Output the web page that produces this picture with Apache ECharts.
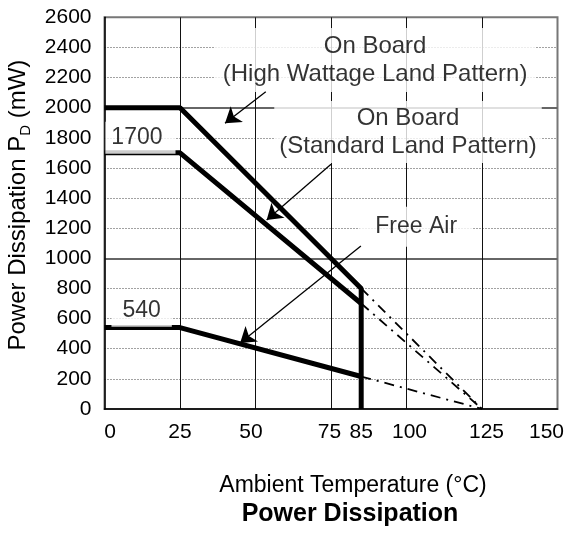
<!DOCTYPE html>
<html>
<head>
<meta charset="utf-8">
<script src="https://cdn.jsdelivr.net/npm/echarts@6/dist/echarts.min.js"></script>
<style>html,body{margin:0;padding:0;background:#fff}#c{width:569px;height:546px}</style>
</head>
<body>
<div id="c"></div>
<script>
// ---- data ----
const xTickLabels = [0, 25, 50, 75, 85, 100, 125, 150];
const highWattage = [[0, 2000], [25, 2000], [85, 800], [85, 0]];
const standardPattern = [[0, 1700], [25, 1700], [85, 700]];
const freeAir = [[0, 540], [25, 540], [85, 215]];
const highWattageExt = [[85, 800], [125, 0]];
const standardExt = [[85, 700], [125, 0]];
const freeAirExt = [[85, 215], [125, 0]];
const annotationTexts = ['On Board\n(High Wattage Land Pattern)', 'On Board\n(Standard Land Pattern)', 'Free Air', '1700', '540'];
const annotationX = [89.6, 100.5, 103.2, 11.9, 12.3];
const annotationY = [2316, 1838, 1210, 1800, 652];
const arrowFrom = [[53.4, 2106], [75.0, 1624], [84.9, 1082]];
const arrowTo = [[39.9, 1896], [53.7, 1254], [44.9, 437]];

const FONT = '"Liberation Sans", Arial, Helvetica, sans-serif';
const boxPadding = [[4, 8], [3, 5], [6, 16], [2, 13, 2, 6], [2, 11]];
const boxFont = [24, 24, 23, 23, 23];
// horizontal label nudges (rich padding) for x tick labels
const xLabelPad = {0: [0, 0, 0, 11], 50: [0, 9, 0, 0], 75: [0, 3, 0, 0], 100: [0, 0, 0, 6], 125: [0, 0, 0, 9], 150: [0, 22, 0, 0]};

const chart = echarts.init(document.getElementById('c'), null, {renderer: 'canvas'});

const thick = {color: '#000', width: 5};
const dashdot = {color: '#000', width: 1.8, type: [10, 6, 2, 6]};

function lineSeries(data, style) {
  return {type: 'line', data: data, symbol: 'none', lineStyle: style, animation: false, z: 3};
}

const xRich = {};
Object.keys(xLabelPad).forEach(function (k) {
  xRich['p' + k] = {fontFamily: FONT, fontSize: 21, color: '#000', padding: xLabelPad[k]};
});

const option = {
  animation: false,
  backgroundColor: '#fff',
  textStyle: {fontFamily: FONT},
  title: {
    text: 'Power Dissipation',
    left: 345, textAlign: 'center', top: 497,
    textStyle: {fontFamily: FONT, fontWeight: 'bold', fontSize: 25, color: '#000'}
  },
  grid: {left: 104.5, right: 11.5, top: 17.3, bottom: 137.1, containLabel: false, outerBoundsMode: 'none',
    show: true, borderColor: '#777', borderWidth: 2, backgroundColor: 'transparent'},
  xAxis: [{
    type: 'value', min: 0, max: 150, interval: 25,
    name: 'Ambient Temperature (°C)', nameLocation: 'middle', nameGap: 65,
    nameTextStyle: {fontFamily: FONT, fontSize: 23, color: '#000', padding: [0, 0, 0, 44]},
    axisLine: {lineStyle: {color: '#000', width: 1.5}},
    axisTick: {show: false},
    axisLabel: {
      customValues: xTickLabels, fontFamily: FONT, fontSize: 21, color: '#000', margin: 13,
      formatter: function (v) {
        return xLabelPad[v] ? '{p' + v + '|' + v + '}' : String(v);
      },
      rich: xRich
    },
    splitLine: {show: false}
  }, {
    type: 'value', min: 0, max: 150, interval: 25, position: 'bottom',
    axisLine: {show: false}, axisTick: {show: false}, axisLabel: {show: false},
    splitLine: {show: true, showMinLine: false, showMaxLine: false, lineStyle: {color: '#111', width: 1}}
  }],
  yAxis: [{
    type: 'value', min: 0, max: 2600, interval: 200, position: 'left',
    name: 'Power Dissipation P{sub|D} (mW)', nameLocation: 'middle', nameGap: 71,
    nameTextStyle: {fontFamily: FONT, fontSize: 24, color: '#000', padding: [0, 0, 0, 16],
      rich: {sub: {fontFamily: FONT, fontSize: 15, color: '#000', verticalAlign: 'bottom', lineHeight: 30}}},
    axisLine: {lineStyle: {color: '#000', width: 1.5}},
    axisTick: {show: false},
    axisLabel: {fontFamily: FONT, fontSize: 21, color: '#000', margin: 13, formatter: function (v) { return String(v); }},
    splitLine: {show: true, showMinLine: false, showMaxLine: false, lineStyle: {color: '#444', width: 1, type: [1, 2]}}
  }, {
    type: 'value', min: 0, max: 2600, interval: 1000, position: 'left',
    axisLine: {show: false}, axisTick: {show: false}, axisLabel: {show: false},
    splitLine: {show: true, showMinLine: false, showMaxLine: false, lineStyle: {color: '#666', width: 2}}
  }],
  series: [
    lineSeries(highWattage, thick),
    lineSeries(standardPattern, thick),
    lineSeries(freeAir, thick),
    lineSeries(highWattageExt, dashdot),
    lineSeries(standardExt, dashdot),
    lineSeries(freeAirExt, dashdot),
    {
      type: 'scatter', symbolSize: 0, animation: false, z: 4, silent: true,
      data: annotationTexts.map(function (t, i) { return {name: t, value: [annotationX[i], annotationY[i]],
        label: {padding: boxPadding[i], fontSize: boxFont[i]}}; }),
      label: {show: true, position: 'inside', formatter: '{b}', fontFamily: FONT, fontSize: 23, lineHeight: 28,
        color: '#000', backgroundColor: '#fff', align: 'center', verticalAlign: 'middle'}
    },
    {
      type: 'lines', coordinateSystem: 'cartesian2d', animation: false, z: 5, silent: true,
      symbol: ['none', 'arrow'], symbolSize: [9, 15],
      lineStyle: {color: '#000', width: 1.3, opacity: 1, curveness: 0},
      data: arrowFrom.map(function (f, i) { return {coords: [f, arrowTo[i]]}; })
    }
  ]
};
chart.setOption(option);
</script>
</body>
</html>
